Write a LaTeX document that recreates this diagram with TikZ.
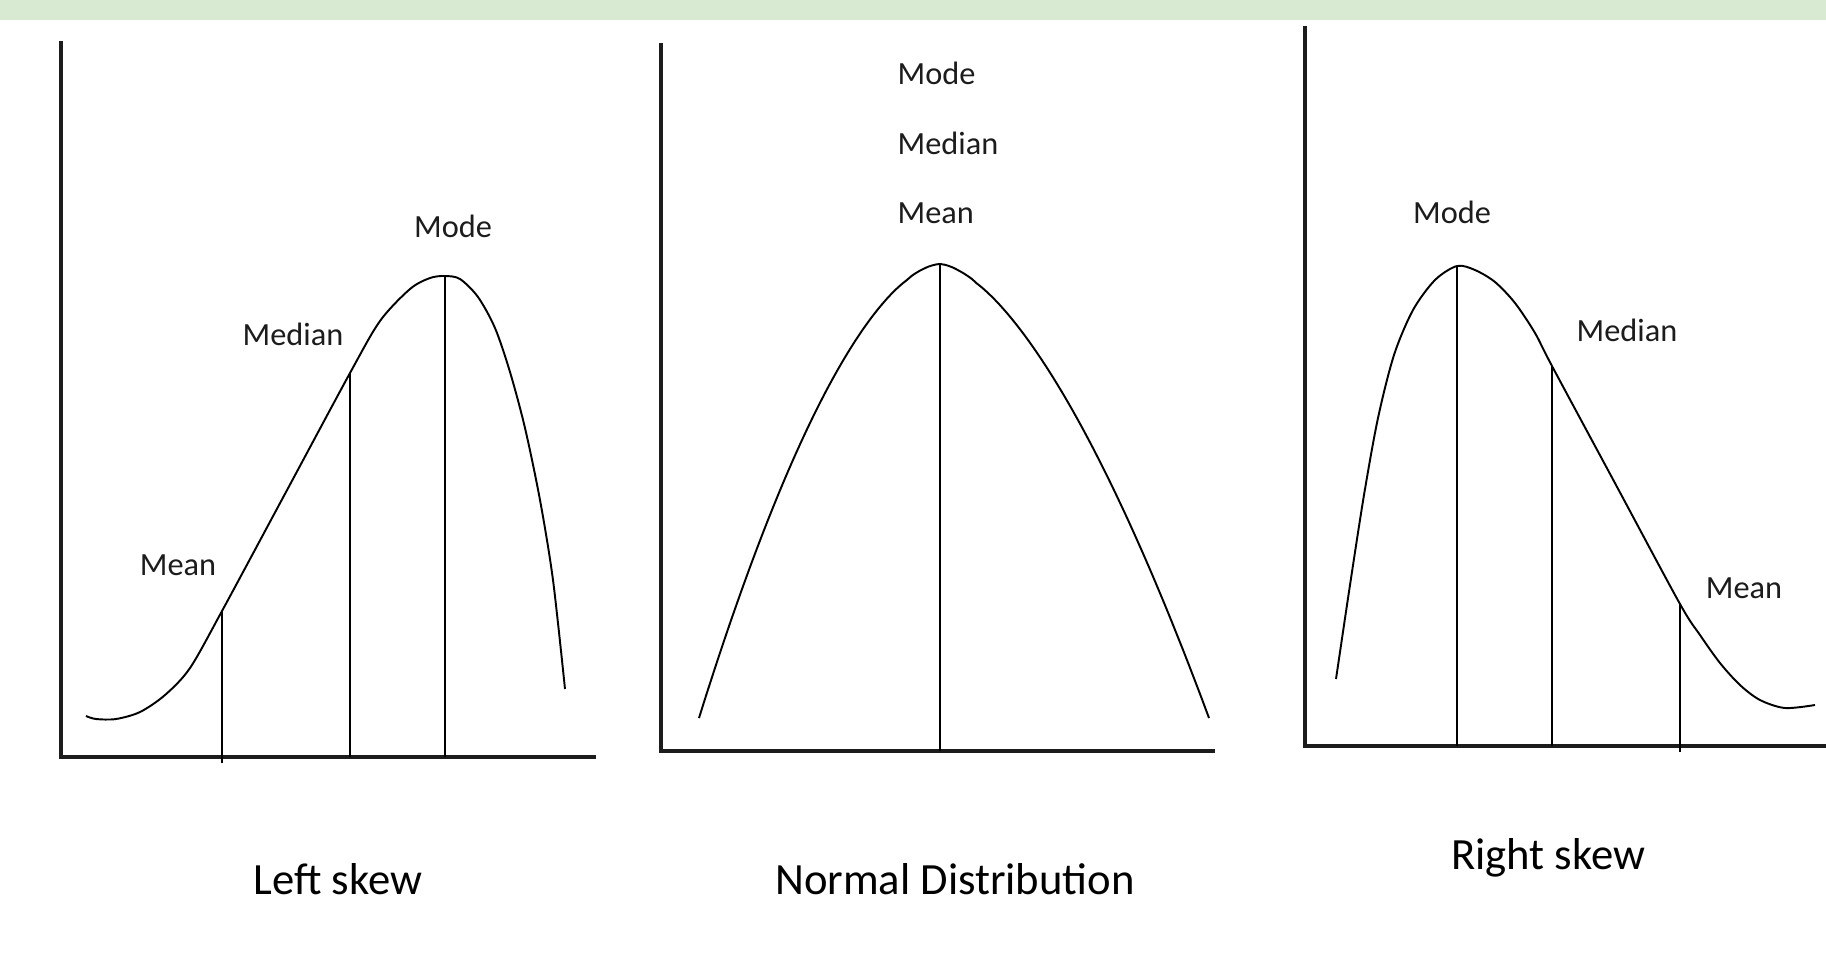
\documentclass[tikz,border=0pt]{standalone}
\usepackage{fontspec}
\setmainfont{Carlito}
\usetikzlibrary{positioning}
\definecolor{barGreen}{RGB}{217,234,211}
\definecolor{inkGrey}{RGB}{28,28,28}

\begin{document}
\begin{tikzpicture}[x=0.01cm,y=-0.01cm,
  axisLine/.style={line width=0.95pt,draw=inkGrey},
  curveLine/.style={line width=0.55pt,draw=black},
  markLine/.style={line width=0.6pt,draw=black},
  statLabel/.style={text=inkGrey,font=\fontsize{9.2}{11}\selectfont,inner sep=0pt},
  panelTitle/.style={text=black,font=\fontsize{12.7}{15}\selectfont,inner sep=0pt}]
\path[use as bounding box,fill=white] (0,0) rectangle (1826,953);
\fill[barGreen] (0,0) rectangle (1826,20);

% Left skew - axes, curve and the three marks
\coordinate (lsTop) at (61,41);
\coordinate (lsOrigin) at (61,757);
\coordinate (lsEnd) at (596,757);
\draw[axisLine] (lsTop) -- (lsOrigin) -- (lsEnd);
\coordinate (lsMean) at (222,611);
\coordinate (lsMedian) at (350,373);
\coordinate (lsMode) at (445,276);
\draw[curveLine] plot[smooth,tension=0.5] coordinates {(86,716) (96,719) (116,719) (140,712) (165,695) (190,668) (lsMean) (286,492) (lsMedian) (380,321) (410,289) (430,278) (lsMode) (460,279) (478,297) (495,328) (510,372) (525,428) (540,500) (553,580) (565,689)};
\coordinate (lsMeanFoot) at (222,763);
\draw[markLine] (lsMean) -- (lsMeanFoot);
\draw[markLine] (lsMedian) -- (lsMedian |- lsOrigin);
\draw[markLine] (lsMode) -- (lsMode |- lsOrigin);
\node[statLabel] (lsModeTxt) at (453,226) {Mode};
\node[statLabel] (lsMedianTxt) at (293,334) {Median};
\node[statLabel] (lsMeanTxt) at (178,565) {Mean};
\node[panelTitle] (lsTitle) at (338,879) {Left skew};

% Normal distribution - one mark for all three
\coordinate (ndTop) at (661,43);
\coordinate (ndOrigin) at (661,751);
\coordinate (ndEnd) at (1215,751);
\draw[axisLine] (ndTop) -- (ndOrigin) -- (ndEnd);
\coordinate (ndPeak) at (940,264);
\draw[curveLine] plot[domain=241:0,samples=60,smooth] ({940-\x},{264+454*(\x/241)^1.7})
  -- plot[domain=0:269,samples=60,smooth] ({940+\x},{264+454*(\x/269)^1.6});
\draw[markLine] (ndPeak) -- (ndPeak |- ndOrigin);
\node[statLabel,anchor=west] (ndModeTxt) at (897,73) {Mode};
\node[statLabel,anchor=west] (ndMedianTxt) at (897,143) {Median};
\node[statLabel,anchor=west] (ndMeanTxt) at (897,213) {Mean};
\node[panelTitle] (ndTitle) at (955,879) {Normal Distribution};

% Right skew - mirror of the left one
\coordinate (rsTop) at (1305,26);
\coordinate (rsOrigin) at (1305,746);
\coordinate (rsEnd) at (1826,746);
\draw[axisLine] (rsTop) -- (rsOrigin) -- (rsEnd);
\coordinate (rsMode) at (1457,266);
\coordinate (rsMedian) at (1552,366);
\coordinate (rsMean) at (1680,604);
\draw[curveLine] plot[smooth,tension=0.5] coordinates {(1336,679) (1350,585) (1364,495) (1378,418) (1394,355) (1413,310) (1435,280) (rsMode) (1475,270) (1495,282) (1515,303) (1535,333) (rsMedian) (1616,485) (rsMean) (1700,635) (1720,663) (1740,685) (1760,700) (1785,708) (1815,705)};
\coordinate (rsMeanFoot) at (1680,752);
\draw[markLine] (rsMode) -- (rsMode |- rsOrigin);
\draw[markLine] (rsMedian) -- (rsMedian |- rsOrigin);
\draw[markLine] (rsMean) -- (rsMeanFoot);
\node[statLabel] (rsModeTxt) at (1452,212) {Mode};
\node[statLabel] (rsMedianTxt) at (1627,330) {Median};
\node[statLabel] (rsMeanTxt) at (1744,588) {Mean};
\node[panelTitle] (rsTitle) at (1548,858) {Right skew};
\end{tikzpicture}
\end{document}
